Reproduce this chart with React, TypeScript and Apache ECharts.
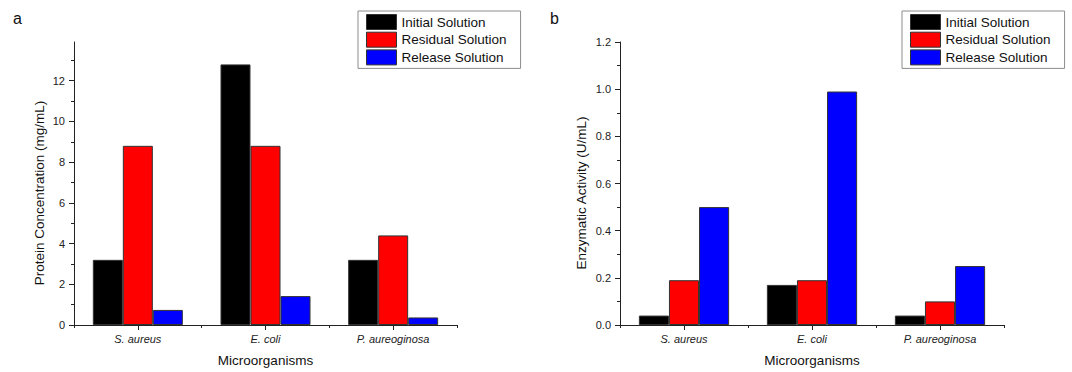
import React, { useEffect, useRef } from "react";
import * as echarts from "echarts";

const categories = ["S. aureus", "E. coli", "P. aureoginosa"];
const seriesNames = ["Initial Solution", "Residual Solution", "Release Solution"];
const seriesColors = ["#000000", "#ff0000", "#0000ff"];

// Panel a: Protein Concentration (mg/mL)
const proteinInitial = [3.2, 12.8, 3.2];
const proteinResidual = [8.8, 8.8, 4.4];
const proteinRelease = [0.74, 1.42, 0.37];
const proteinMajorTicks = [0, 2, 4, 6, 8, 10, 12];
const proteinMinorTicks = [1, 3, 5, 7, 9, 11, 13];
const proteinMax = 13.9;

// Panel b: Enzymatic Activity (U/mL)
const activityInitial = [0.04, 0.17, 0.04];
const activityResidual = [0.19, 0.19, 0.1];
const activityRelease = [0.5, 0.99, 0.25];
const activityMajorTicks = [0, 0.2, 0.4, 0.6, 0.8, 1.0, 1.2];
const activityMinorTicks = [0.1, 0.3, 0.5, 0.7, 0.9, 1.1];
const activityMax = 1.2;

const FONT = '"Liberation Sans", Arial, Helvetica, sans-serif';
const AXIS_COLOR = "#222";

export default function App() {
  const ref = useRef<HTMLDivElement>(null);

  useEffect(() => {
    if (!ref.current) return;
    const chart = echarts.init(ref.current, undefined, { renderer: "svg" });

    const grids = [
      { left: 74, top: 42, width: 383, height: 285 },
      { left: 620, top: 42, width: 384, height: 285 },
    ];

    const mainX = (gi: number) => ({
      type: "category",
      gridIndex: gi,
      data: categories,
      position: "bottom",
      axisLine: { show: true, lineStyle: { color: AXIS_COLOR, width: 1 } },
      axisTick: { show: true, alignWithLabel: false, length: 3, lineStyle: { color: AXIS_COLOR } },
      axisLabel: { fontSize: 11, fontStyle: "italic", color: AXIS_COLOR, fontFamily: FONT, margin: 8 },
      splitLine: { show: false },
      name: "Microorganisms",
      nameLocation: "middle",
      nameGap: 28,
      nameTextStyle: { fontSize: 13.5, color: "#111", fontFamily: FONT },
    });
    const overlayX = (gi: number) => ({
      type: "category",
      gridIndex: gi,
      data: categories,
      position: "bottom",
      axisLine: { show: false },
      axisTick: { show: true, alignWithLabel: true, length: 5, lineStyle: { color: AXIS_COLOR } },
      axisLabel: { show: false },
      splitLine: { show: false },
    });

    const mainY = (gi: number, max: number, interval: number, major: number[], name: string, nameGap: number, fmt: (v: number) => string) => ({
      type: "value",
      gridIndex: gi,
      position: "left",
      min: 0,
      max,
      interval,
      axisLine: { show: true, lineStyle: { color: AXIS_COLOR, width: 1 } },
      axisTick: { show: true, length: 5, customValues: major, lineStyle: { color: AXIS_COLOR } },
      axisLabel: { customValues: major, fontSize: 11, color: AXIS_COLOR, fontFamily: FONT, margin: 9, formatter: fmt },
      splitLine: { show: false },
      name,
      nameLocation: "middle",
      nameGap,
      nameTextStyle: { fontSize: 13.5, color: "#111", fontFamily: FONT, padding: [0, 19, 0, 0] },
    });
    const overlayY = (gi: number, max: number, interval: number, minor: number[]) => ({
      type: "value",
      gridIndex: gi,
      position: "left",
      min: 0,
      max,
      interval,
      axisLine: { show: false },
      axisTick: { show: true, length: 3, customValues: minor, lineStyle: { color: AXIS_COLOR } },
      axisLabel: { show: false },
      splitLine: { show: false },
    });

    const barSeries = (name: string, data: number[], color: string, axisIndex: number) => ({
      type: "bar",
      name,
      data,
      xAxisIndex: axisIndex,
      yAxisIndex: axisIndex,
      barCategoryGap: "29.5%",
      barGap: "0%",
      itemStyle: { color, borderColor: "#333", borderWidth: 1 },
    });

    const legend = (left: number) => ({
      left,
      top: 11,
      orient: "vertical",
      itemWidth: 30,
      itemHeight: 15,
      itemGap: 1.7,
      padding: [3, 14, 3, 8],
      borderColor: "#8c8c8c",
      borderWidth: 1,
      backgroundColor: "#fff",
      icon: "rect",
      selectedMode: false,
      textStyle: { fontSize: 13.5, color: "#111", fontFamily: FONT },
      itemStyle: { borderColor: "#333", borderWidth: 1 },
      data: seriesNames,
    });

    const option: any = {
      animation: false,
      backgroundColor: "#fff",
      textStyle: { fontFamily: FONT },
      grid: grids,
      xAxis: [mainX(0), overlayX(0), mainX(1), overlayX(1)],
      yAxis: [
        mainY(0, proteinMax, 2, proteinMajorTicks, "Protein Concentration (mg/mL)", 28, (v: number) => String(v)),
        overlayY(0, proteinMax, 2, proteinMinorTicks),
        mainY(1, activityMax, 0.2, activityMajorTicks, "Enzymatic Activity (U/mL)", 32, (v: number) => Number(v).toFixed(1)),
        overlayY(1, activityMax, 0.2, activityMinorTicks),
      ],
      legend: [legend(358), legend(902)],
      graphic: [
        { type: "text", left: 13, top: 10, style: { text: "a", fontSize: 16, fill: "#111", fontFamily: FONT } },
        { type: "text", left: 550, top: 10, style: { text: "b", fontSize: 16, fill: "#111", fontFamily: FONT } },
      ],
      series: [
        barSeries(seriesNames[0], proteinInitial, seriesColors[0], 0),
        barSeries(seriesNames[1], proteinResidual, seriesColors[1], 0),
        barSeries(seriesNames[2], proteinRelease, seriesColors[2], 0),
        barSeries(seriesNames[0], activityInitial, seriesColors[0], 2),
        barSeries(seriesNames[1], activityResidual, seriesColors[1], 2),
        barSeries(seriesNames[2], activityRelease, seriesColors[2], 2),
      ],
    };

    chart.setOption(option);
    return () => chart.dispose();
  }, []);

  return (
    <div
      ref={ref}
      style={{ position: "absolute", left: 0, top: 0, width: 1072, height: 372, background: "#fff" }}
    />
  );
}
